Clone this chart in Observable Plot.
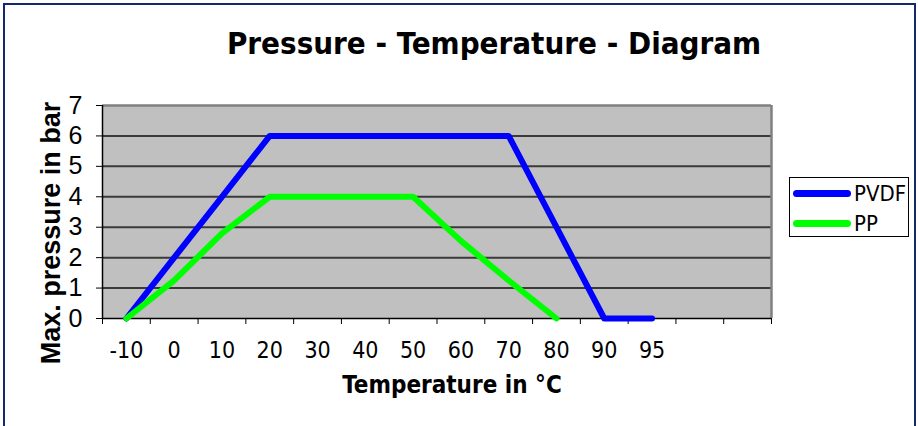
<!DOCTYPE html>
<html>
<head>
<meta charset="utf-8">
<script src="https://cdn.jsdelivr.net/npm/d3@7"></script>
<script src="https://cdn.jsdelivr.net/npm/@observablehq/plot@0.6"></script>
<style>
  html, body { margin: 0; padding: 0; background: #fff; overflow: hidden; }
  #wrap { position: relative; width: 918px; height: 426px; }
  #frame { position: absolute; left: 3px; top: 3px; width: 913px; height: 440px; border: 2px solid #14286e; box-sizing: border-box; pointer-events: none; }
  #legend { position: absolute; left: 789px; top: 177px; width: 120px; height: 60px; box-sizing: border-box; border: 1px solid #000; background: #fff;
            font-family: "DejaVu Sans Condensed", "DejaVu Sans", sans-serif; font-size: 22px; color: #000; }
  .row { position: absolute; left: 3px; height: 24px; display: flex; align-items: center; }
  .sw { display: inline-block; width: 58px; height: 7px; border-radius: 4px; margin-right: 3px; }
</style>
</head>
<body>
<div id="wrap">
  <div id="chart"></div>
  <div id="legend"></div>
  <div id="frame"></div>
</div>
<script>
const title = "Pressure - Temperature - Diagram";
const xLabel = "Temperature in °C";
const yLabel = "Max. pressure in bar";
const categories = ["-10", "0", "10", "20", "30", "40", "50", "60", "70", "80", "90", "95", "", ""];
const seriesNames = ["PVDF", "PP"];
const seriesColors = ["#0000ff", "#00ff00"];
const pvdf = [0, 2, 4, 6, 6, 6, 6, 6, 6, 3, 0, 0];
const pp = [0, 1.25, 2.8, 4, 4, 4, 4, 2.55, 1.25, 0];
const yTicks = [0, 1, 2, 3, 4, 5, 6, 7];

const rows = [];
[pvdf, pp].forEach((vals, s) => vals.forEach((v, i) => rows.push({pos: i + 0.5, value: v, series: seriesNames[s]})));
const centers = categories.map((c, i) => i + 0.5);
const bounds = d3.range(0, categories.length + 1);

const condensed = "'DejaVu Sans Condensed', 'DejaVu Sans', sans-serif";

const chart = Plot.plot({
  width: 918,
  height: 426,
  marginLeft: 102,
  marginRight: 147,
  marginTop: 105,
  marginBottom: 108,
  style: {background: "transparent", color: "#000", fontFamily: "'Liberation Sans', Arial, sans-serif"},
  x: {type: "linear", domain: [0, categories.length]},
  y: {domain: [0, 7]},
  color: {domain: seriesNames, range: seriesColors},
  marks: [
    Plot.frame({fill: "#c0c0c0", stroke: null}),
    Plot.ruleY(yTicks.filter(t => t > 0 && t < 7), {stroke: "#3a3a3a", strokeWidth: 2}),
    Plot.ruleY([7], {stroke: "#808080", strokeWidth: 2.5}),
    Plot.ruleX([categories.length], {stroke: "#808080", strokeWidth: 2.5}),
    Plot.ruleY([0], {stroke: "#000", strokeWidth: 1.5}),
    Plot.ruleX([0], {stroke: "#000", strokeWidth: 1.5}),
    Plot.axisY({ticks: yTicks, tickSize: 6, tickPadding: 14, fontSize: 25, label: null, tickFormat: d => String(d), stroke: "#000"}),
    Plot.axisX({ticks: bounds, tickSize: 6, tickFormat: () => "", label: null}),
    Plot.axisX({ticks: centers, tickSize: 0, tickPadding: 23, label: null, fontSize: 23, fontFamily: condensed, tickFormat: d => categories[Math.floor(d)]}),
    Plot.line(rows, {x: "pos", y: "value", z: "series", stroke: "series", strokeWidth: 6, strokeLinejoin: "round", strokeLinecap: "round"}),
    Plot.text([title], {frameAnchor: "top", dx: 57, dy: -61, fontSize: 31, fontWeight: "bold", fontFamily: condensed, lineAnchor: "middle"}),
    Plot.text([xLabel], {frameAnchor: "bottom", dx: 15, dy: 67, fontSize: 24, fontWeight: "bold", fontFamily: condensed, lineAnchor: "middle"}),
    Plot.text([yLabel], {frameAnchor: "left", dx: -51, dy: 21, rotate: -90, textAnchor: "middle", fontSize: 27, fontWeight: "bold", fontFamily: "'Liberation Sans', Arial, sans-serif", lineAnchor: "middle"})
  ]
});
document.getElementById("chart").appendChild(chart);

const legend = document.getElementById("legend");
seriesNames.forEach((name, i) => {
  const row = document.createElement("div");
  row.className = "row";
  row.style.top = (3 + i * 30) + "px";
  const sw = document.createElement("span");
  sw.className = "sw";
  sw.style.background = seriesColors[i];
  row.appendChild(sw);
  row.appendChild(document.createTextNode(name));
  legend.appendChild(row);
});
</script>
</body>
</html>
